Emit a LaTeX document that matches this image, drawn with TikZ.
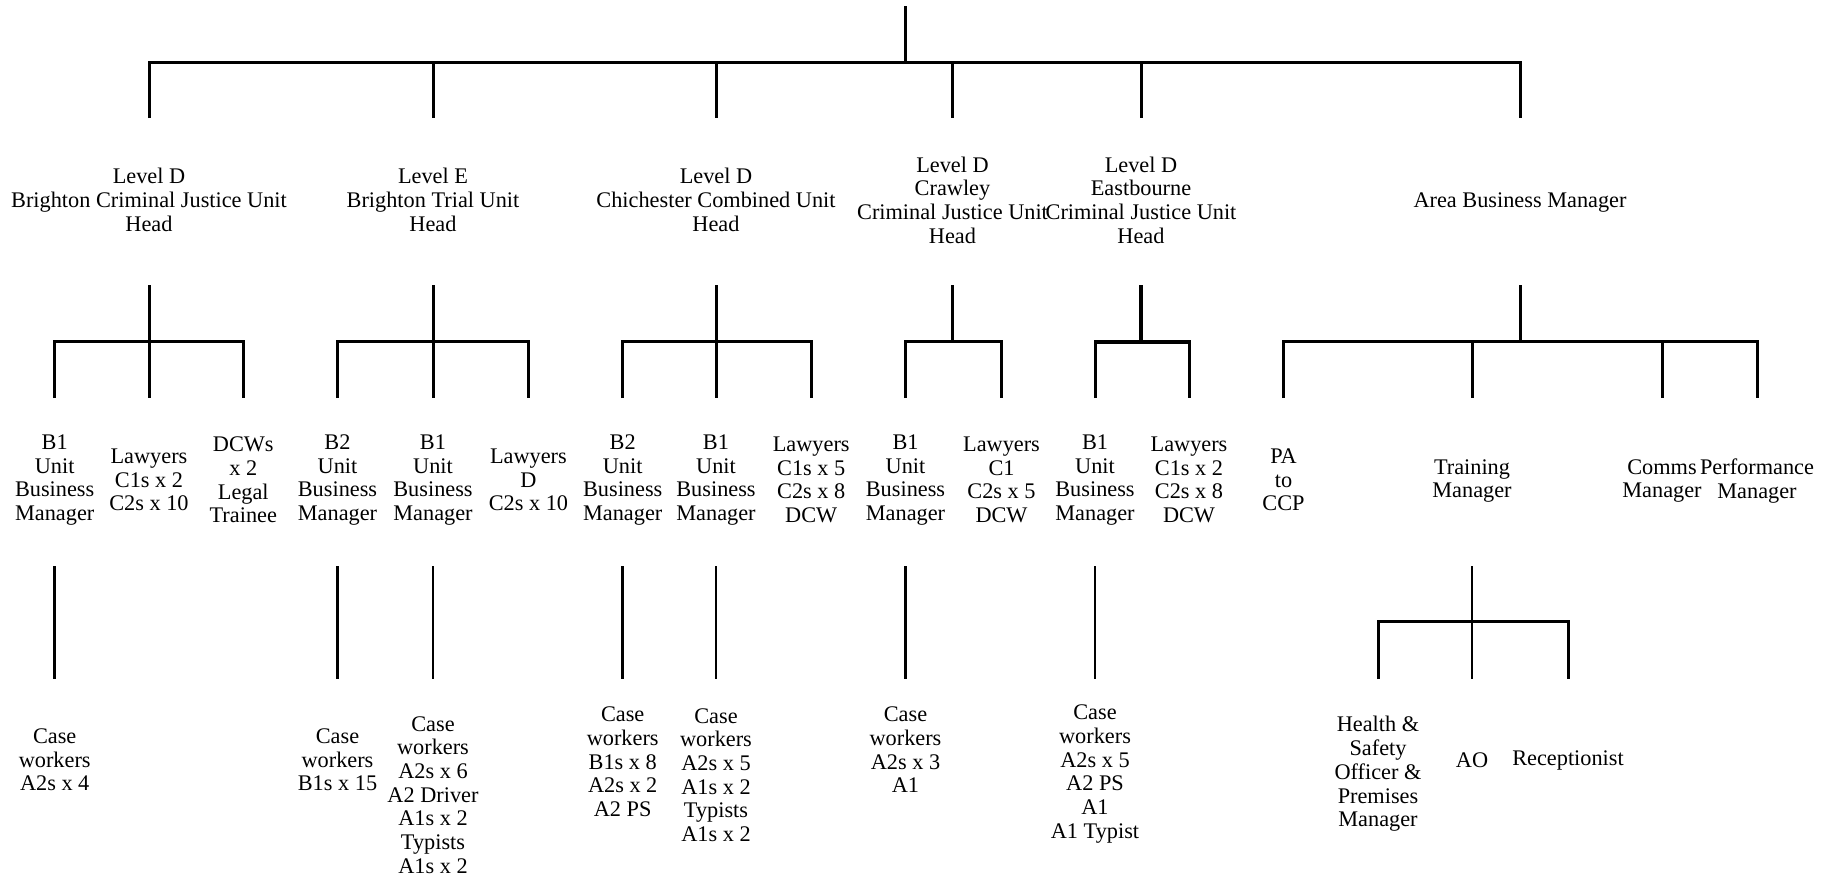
\documentclass[tikz,border=0pt]{standalone}
\usepackage{fontspec}
\setmainfont{Liberation Serif}
\begin{document}
\begin{tikzpicture}[x=1pt,y=-1pt,
  lbl/.style={align=center,inner sep=0pt,font=\fontsize{22.3}{23.7}\selectfont},
  conn/.style={line width=3pt},
  thinconn/.style={line width=2.5pt},
  thickconn/.style={line width=4pt}]
\useasboundingbox[fill=white] (0,0) rectangle (1825,878);
% level coordinates
\coordinate (root) at (905.5,6);
\coordinate (yB) at (0,62.5);
\coordinate (yC) at (0,118);
\coordinate (yD) at (0,285);
\coordinate (yE) at (0,341.5);
\coordinate (yF) at (0,398);
\coordinate (yG) at (0,566);
\coordinate (yH) at (0,621.7);
\coordinate (yI) at (0,679);
% level 2
\node[lbl] (L1) at (149,200) {Level D\\Brighton Criminal Justice Unit\\Head};
\node[lbl] (L2) at (433,200) {Level E\\Brighton Trial Unit\\Head};
\node[lbl] (L3) at (716,200) {Level D\\Chichester Combined Unit\\Head};
\node[lbl] (L4) at (952.5,200) {Level D\\Crawley\\Criminal Justice Unit\\Head};
\node[lbl] (L5) at (1141,200) {Level D\\Eastbourne\\Criminal Justice Unit\\Head};
\node[lbl] (L6) at (1520,203) {Area Business Manager};
% level 3
\node[lbl] (a1) at (54.7,480) {B1\\Unit\\Business\\Manager};
\node[lbl] (a2) at (149,480) {Lawyers\\C1s x 2\\C2s x 10};
\node[lbl] (a3) at (243.3,480) {DCWs\\x 2\\Legal\\Trainee};
\node[lbl] (b1) at (337.5,480) {B2\\Unit\\Business\\Manager};
\node[lbl] (b2) at (433,480) {B1\\Unit\\Business\\Manager};
\node[lbl] (b3) at (528.4,480) {Lawyers\\D\\C2s x 10};
\node[lbl] (c1) at (622.7,480) {B2\\Unit\\Business\\Manager};
\node[lbl] (c2) at (716,480) {B1\\Unit\\Business\\Manager};
\node[lbl] (c3) at (811.2,480) {Lawyers\\C1s x 5\\C2s x 8\\DCW};
\node[lbl] (d1) at (905.5,480) {B1\\Unit\\Business\\Manager};
\node[lbl] (d2) at (1001.5,480) {Lawyers\\C1\\C2s x 5\\DCW};
\node[lbl] (e1) at (1095,480) {B1\\Unit\\Business\\Manager};
\node[lbl] (e2) at (1189,480) {Lawyers\\C1s x 2\\C2s x 8\\DCW};
\node[lbl] (f1) at (1283.5,480) {PA\\to\\CCP};
\node[lbl] (f2) at (1472,481) {Training\\Manager};
\node[lbl] (f3) at (1662,481) {Comms\\Manager};
\node[lbl] (f4) at (1757,481) {Performance\\Manager};
% level 4
\node[lbl] (ga1) at (54.7,760) {Case\\workers\\A2s x 4};
\node[lbl] (gb1) at (337.5,760) {Case\\workers\\B1s x 15};
\node[lbl] (gb2) at (433,795) {Case\\workers\\A2s x 6\\A2 Driver\\A1s x 2\\Typists\\A1s x 2};
\node[lbl] (gc1) at (622.7,762) {Case\\workers\\B1s x 8\\A2s x 2\\A2 PS};
\node[lbl] (gc2) at (716,775) {Case\\workers\\A2s x 5\\A1s x 2\\Typists\\A1s x 2};
\node[lbl] (gd1) at (905.5,750) {Case\\workers\\A2s x 3\\A1};
\node[lbl] (ge1) at (1095,774) {Case\\workers\\A2s x 5\\A2 PS\\A1\\A1 Typist};
\node[lbl] (h1) at (1378,774) {Health \&\\Safety\\Officer \&\\Premises\\Manager};
\node[lbl] (h2) at (1472,760) {AO};
\node[lbl] (h3) at (1568,760) {Receptionist};
% level 1 connectors
\draw[conn] (root) -- (root |- yB);
\draw[conn] (L1 |- yC) -- (L1 |- yB) -- (L6 |- yB) -- (L6 |- yC);
\foreach \n in {L2,L3,L4,L5} \draw[conn] (\n |- yB) -- (\n |- yC);
% level 2 connectors
\foreach \p/\l/\r in {L1/a1/a3, L2/b1/b3, L3/c1/c3, L4/d1/d2, L6/f1/f4}{
  \draw[conn] (\p |- yD) -- (\p |- yE);
  \draw[conn] (\l |- yF) -- (\l |- yE) -- (\r |- yE) -- (\r |- yF);
}
\draw[thickconn] (L5 |- yD) -- (L5 |- yE);
\draw[conn] (e1 |- yF) -- (e1 |- yE) -- (e2 |- yE) -- (e2 |- yF);
\draw[thickconn] (e1 |- yE) -- (e2 |- yE);
\foreach \n in {a2,b2,c2,f2,f3} \draw[conn] (\n |- yE) -- (\n |- yF);
% level 3 connectors
\foreach \n in {a1,b1,c1,d1} \draw[conn] (\n |- yG) -- (\n |- yI);
\foreach \n in {b2,c2,e1} \draw[thinconn] (\n |- yG) -- (\n |- yI);
\draw[thinconn] (f2 |- yG) -- (f2 |- yI);
\draw[conn] (h1 |- yI) -- (h1 |- yH) -- (h3 |- yH) -- (h3 |- yI);
\end{tikzpicture}
\end{document}
